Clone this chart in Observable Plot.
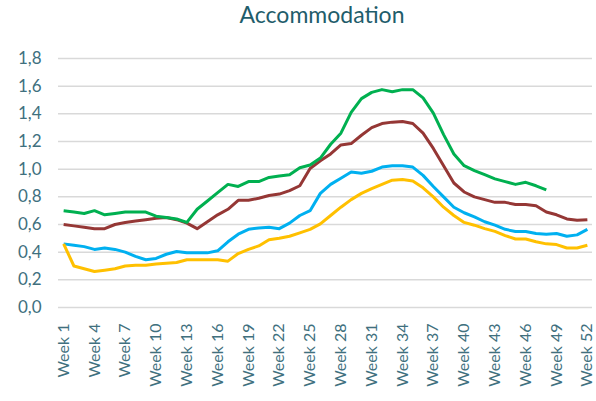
<!DOCTYPE html>
<html><head><meta charset="utf-8">
<script src="https://cdn.jsdelivr.net/npm/d3@7"></script>
<script src="https://cdn.jsdelivr.net/npm/@observablehq/plot@0.6"></script>
<style>
body{margin:0;background:#fff;font-family:Lato,"Open Sans",sans-serif;}
#title{box-sizing:border-box;width:596px;height:40px;padding-top:3px;padding-left:48px;text-align:center;font-size:23px;line-height:23px;color:#1F5D6B;}
</style></head><body>
<div id="title">Accommodation</div>
<div id="chart"></div>
<script>
const weeks = d3.range(1, 53);
const weekTicks = [1,4,7,10,13,16,19,22,25,28,31,34,37,40,43,46,49,52];
const yTicks = [0,0.2,0.4,0.6,0.8,1.0,1.2,1.4,1.6,1.8];

const seriesGreen = [0.70,0.69,0.68,0.70,0.67,0.68,0.69,0.69,0.69,0.66,
  0.65,0.64,0.615,0.71,0.77,0.83,0.89,0.875,0.91,0.91,
  0.94,0.95,0.96,1.01,1.03,1.08,1.18,1.26,1.41,1.51,
  1.555,1.575,1.56,1.575,1.575,1.515,1.405,1.25,1.11,1.025,
  0.99,0.96,0.93,0.91,0.89,0.905,0.88,0.85];
const seriesBrown = [0.60,0.59,0.58,0.57,0.57,0.60,0.615,0.625,0.635,0.645,
  0.65,0.635,0.61,0.57,0.62,0.67,0.71,0.775,0.775,0.79,
  0.81,0.82,0.845,0.88,1.005,1.06,1.11,1.175,1.185,1.245,
  1.30,1.33,1.34,1.345,1.33,1.26,1.15,1.025,0.90,0.835,
  0.80,0.78,0.76,0.76,0.745,0.745,0.735,0.69,0.67,0.64,
  0.63,0.635];
const seriesBlue = [0.46,0.45,0.44,0.42,0.43,0.42,0.40,0.37,0.345,0.355,
  0.385,0.405,0.395,0.395,0.395,0.41,0.475,0.53,0.565,0.575,
  0.58,0.57,0.61,0.665,0.70,0.825,0.89,0.935,0.98,0.97,
  0.985,1.015,1.025,1.025,1.015,0.955,0.875,0.80,0.725,0.685,
  0.655,0.62,0.595,0.565,0.55,0.55,0.535,0.53,0.535,0.515,
  0.525,0.565];
const seriesYellow = [0.46,0.30,0.28,0.26,0.27,0.28,0.30,0.305,0.305,0.315,
  0.32,0.325,0.345,0.345,0.345,0.345,0.335,0.39,0.42,0.445,
  0.49,0.50,0.515,0.54,0.565,0.605,0.665,0.725,0.78,0.825,
  0.86,0.89,0.92,0.925,0.915,0.865,0.80,0.725,0.665,0.615,
  0.595,0.57,0.55,0.52,0.495,0.495,0.475,0.46,0.455,0.43,
  0.43,0.45];

const series = [
  {name: "S1", values: seriesBlue, color: "#00B0F0"},
  {name: "S2", values: seriesYellow, color: "#FFC000"},
  {name: "S3", values: seriesBrown, color: "#953735"},
  {name: "S4", values: seriesGreen, color: "#00B050"}
];
const rows = series.flatMap(s => s.values.map((v, i) => ({week: weeks[i], value: v, series: s.name})));

const labelColor = "#40707E";
const chart = Plot.plot({
  width: 596,
  height: 361,
  marginLeft: 58,
  marginRight: 4,
  marginTop: 18,
  marginBottom: 94,
  style: {fontFamily: "Lato, 'Open Sans', sans-serif", fontSize: "16px", color: labelColor, background: "#fff"},
  x: {domain: [0.5, 52.5]},
  y: {domain: [0, 1.8]},
  color: {type: "ordinal", domain: series.map(s => s.name), range: series.map(s => s.color)},
  marks: [
    Plot.gridY(yTicks, {stroke: "#D9D9D9", strokeOpacity: 1, strokeWidth: 1.5}),
    Plot.axisY(yTicks, {tickSize: 0, tickPadding: 17, tickFormat: d => d.toFixed(1).replace(".", ","), label: null, fill: labelColor, fontSize: 17}),
    Plot.axisX(weekTicks, {tickSize: 0, tickPadding: 16, tickRotate: -90, tickFormat: d => "Week " + d, label: null, fill: labelColor}),
    Plot.line(rows, {x: "week", y: "value", z: "series", stroke: "series", strokeWidth: 3, strokeLinejoin: "round", strokeLinecap: "butt"})
  ]
});
document.getElementById("chart").appendChild(chart);
</script>
</body></html>
